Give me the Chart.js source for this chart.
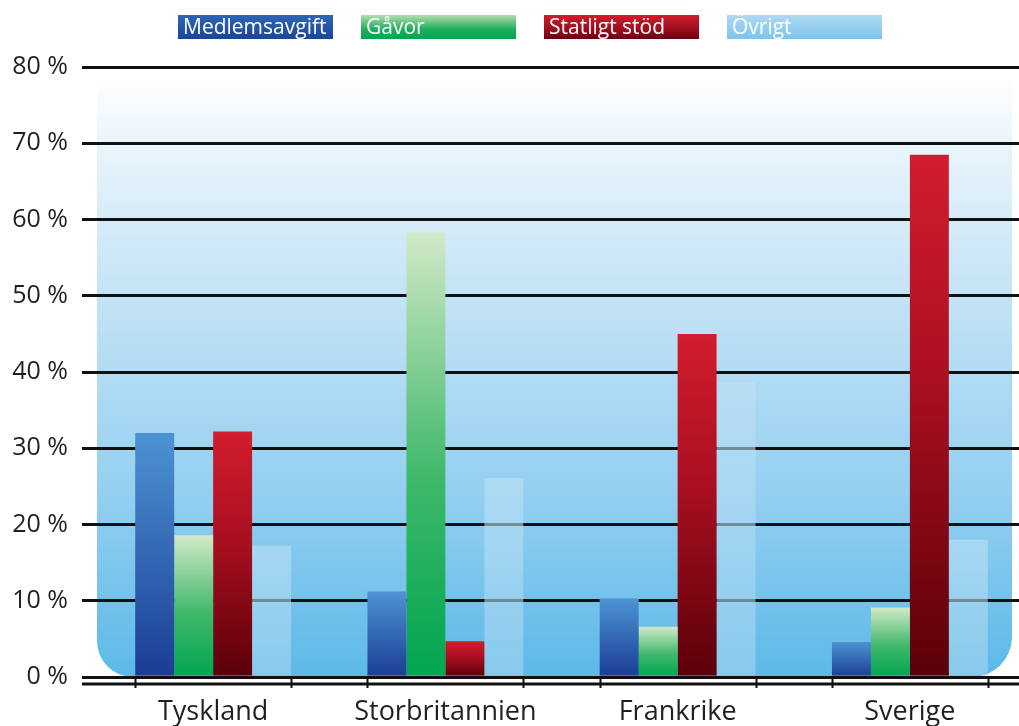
<!DOCTYPE html>
<html>
<head>
<meta charset="utf-8">
<script src="https://cdn.jsdelivr.net/npm/chart.js@4"></script>
<style>
  html, body { margin: 0; padding: 0; background: #fff; overflow: hidden; }
  #wrap { width: 1040px; height: 726px; }
</style>
</head>
<body>
<div id="wrap"><canvas id="chart"></canvas></div>
<script>
// values (percent)
const countries = ["Tyskland", "Storbritannien", "Frankrike", "Sverige"];
const seriesNames = ["Medlemsavgift", "Gåvor", "Statligt stöd", "Övrigt"];
const medlemsavgift = [32.0, 11.2, 10.3, 4.6];
const gavor = [18.6, 58.3, 6.6, 9.1];
const statligtStod = [32.2, 4.7, 45.0, 68.5];
const ovrigt = [17.2, 26.1, 38.7, 18.0];
const yTicks = [0, 10, 20, 30, 40, 50, 60, 70, 80];

// gradient stops, top of bar -> bottom
const barStops = [
  [[0, "#4d93d3"], [1, "#1a3d94"]],
  [[0, "#d2e9c8"], [0.55, "#3fb86a"], [1, "#00a651"]],
  [[0, "#d21d2d"], [0.45, "#a80f20"], [1, "#5a0008"]],
  [[0, "rgba(190,225,245,0.6)"], [1, "rgba(165,212,240,0.6)"]]
];
const legendStops = [
  [[0, "#2e65b6"], [1, "#1b4599"]],
  [[0, "#b4dcb0"], [0.6, "#1cae5c"], [1, "#00a651"]],
  [[0, "#d11d2c"], [0.6, "#9c0d1c"], [1, "#6a0010"]],
  [[0, "#b0d9f3"], [1, "#7cc3ec"]]
];

const font = "'Open Sans', Roboto, sans-serif";

function barFill(stops) {
  return c => {
    const chart = c.chart;
    if (!chart.chartArea || c.type !== "data") return stops[stops.length - 1][1];
    const y = chart.scales.y;
    const g = chart.ctx.createLinearGradient(0, y.getPixelForValue(c.raw), 0, y.getPixelForValue(0));
    stops.forEach(([o, col]) => g.addColorStop(o, col));
    return g;
  };
}

// rounded, fading panel behind the grid
const panel = {
  id: "panel",
  beforeDraw(chart) {
    const { ctx, chartArea: a } = chart;
    const top = a.top + 8, right = a.left + 915;
    const g = ctx.createLinearGradient(0, top, 0, a.bottom);
    g.addColorStop(0, "#ffffff");
    g.addColorStop(0.12, "#e8f4fb");
    g.addColorStop(0.4, "#bfe1f5");
    g.addColorStop(0.7, "#93cff0");
    g.addColorStop(1, "#5cb9e8");
    ctx.save();
    ctx.fillStyle = g;
    ctx.beginPath();
    ctx.roundRect(a.left, top, right - a.left, a.bottom - top, [10, 10, 40, 36]);
    ctx.fill();
    ctx.restore();
  }
};

// second base line and tick marks at group edges
const baseAxis = {
  id: "baseAxis",
  afterDraw(chart) {
    const { ctx, chartArea: a } = chart;
    const y2 = a.bottom + 7;
    ctx.save();
    ctx.strokeStyle = "#111";
    ctx.lineWidth = 3;
    ctx.beginPath();
    ctx.moveTo(a.left - 15, y2);
    ctx.lineTo(chart.width, y2);
    ctx.stroke();
    const first = chart.getDatasetMeta(0).data;
    const last = chart.getDatasetMeta(chart.data.datasets.length - 1).data;
    ctx.lineWidth = 2;
    ctx.beginPath();
    first.forEach((bar, i) => {
      const xl = bar.x - bar.width / 2;
      const xr = last[i].x + last[i].width / 2;
      [xl, xr].forEach(x => {
        ctx.moveTo(Math.round(x) + 0.5, a.bottom);
        ctx.lineTo(Math.round(x) + 0.5, a.bottom + 11);
      });
    });
    ctx.stroke();
    ctx.restore();
  }
};

// legend: text inside coloured boxes
const boxLegend = {
  id: "boxLegend",
  afterDraw(chart) {
    const { ctx } = chart;
    ctx.save();
    ctx.font = "21px " + font;
    ctx.textBaseline = "middle";
    chart.data.datasets.forEach((ds, i) => {
      const x = 178 + i * 183, y = 15, w = 155, h = 24;
      const g = ctx.createLinearGradient(0, y, 0, y + h);
      legendStops[i].forEach(([o, col]) => g.addColorStop(o, col));
      ctx.fillStyle = g;
      ctx.fillRect(x, y, w, h);
      ctx.fillStyle = "#fff";
      ctx.fillText(ds.label, x + 5, y + h / 2 + 1);
    });
    ctx.restore();
  }
};

const series = [medlemsavgift, gavor, statligtStod, ovrigt];

new Chart(document.getElementById("chart"), {
  type: "bar",
  data: {
    labels: countries,
    datasets: series.map((vals, i) => ({
      label: seriesNames[i],
      data: vals,
      backgroundColor: barFill(barStops[i]),
      borderWidth: 0,
      categoryPercentage: 0.671,
      barPercentage: 1
    }))
  },
  options: {
    responsive: true,
    maintainAspectRatio: false,
    animation: false,
    layout: { padding: { top: 67, right: 14, left: 0, bottom: 0 } },
    plugins: { legend: { display: false }, tooltip: { enabled: false } },
    scales: {
      x: {
        grid: { display: false },
        border: { display: false },
        ticks: { color: "#231f20", font: { family: font, size: 27 }, padding: 11 },
        afterFit: s => { s.height = 49; }
      },
      y: {
        min: 0,
        max: 80,
        afterBuildTicks: s => { s.ticks = yTicks.map(v => ({ value: v })); },
        grid: { color: "#111", lineWidth: 3, tickLength: 15, drawTicks: true },
        border: { display: false },
        ticks: {
          color: "#231f20",
          font: { family: font, size: 25 },
          padding: 14,
          callback: v => v + " %"
        },
        afterFit: s => { s.width = 97; }
      }
    }
  },
  plugins: [panel, baseAxis, boxLegend]
});
</script>
</body>
</html>
